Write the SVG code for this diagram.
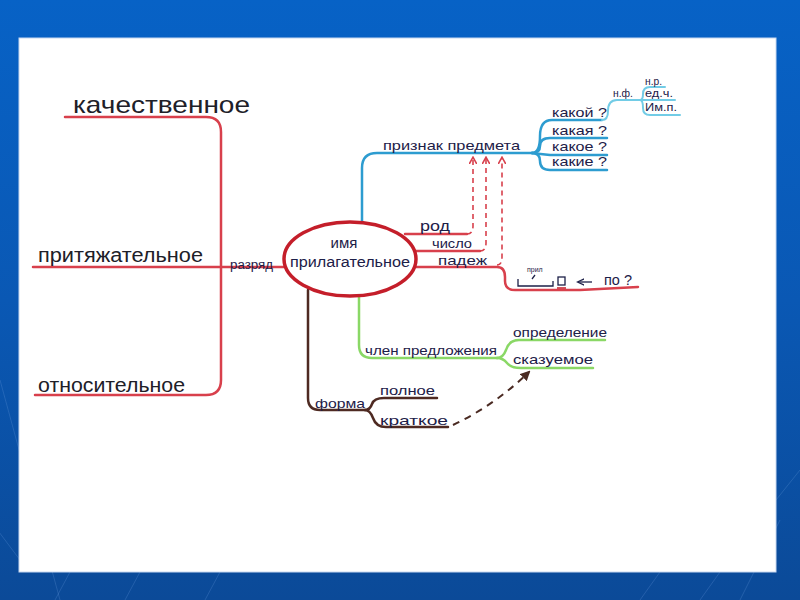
<svg xmlns="http://www.w3.org/2000/svg" width="800" height="600" viewBox="0 0 800 600">
<defs>
<linearGradient id="bg" x1="0" y1="0" x2="0" y2="1">
<stop offset="0" stop-color="#0762c6"/>
<stop offset="0.5" stop-color="#0a58b4"/>
<stop offset="1" stop-color="#0b4a98"/>
</linearGradient>
<marker id="ar" viewBox="0 0 10 10" refX="8" refY="5" markerWidth="5" markerHeight="5" orient="auto">
<path d="M0,0 L9,5 L0,10" fill="none" stroke="#d8404c" stroke-width="2"/>
</marker>
<marker id="ab" viewBox="0 0 10 10" refX="8" refY="5" markerWidth="5" markerHeight="5" orient="auto">
<path d="M0,0 L10,5 L0,10 Z" fill="#4a2a22"/>
</marker>
<marker id="an" viewBox="0 0 10 10" refX="8" refY="5" markerWidth="6" markerHeight="6" orient="auto">
<path d="M0,1 L9,5 L0,9" fill="none" stroke="#1d2048" stroke-width="1.5"/>
</marker>
<style>
.t{font-family:"Liberation Sans","DejaVu Sans",sans-serif;fill:#1d2048}
.big{fill:#202028}
.red{stroke:#d8404c;fill:none;stroke-width:2.5;stroke-linecap:round}
.blue{stroke:#2d9cd0;fill:none;stroke-width:2.5;stroke-linecap:round}
.cyan{stroke:#72cce6;fill:none;stroke-width:2;stroke-linecap:round}
.green{stroke:#8ad866;fill:none;stroke-width:2.5;stroke-linecap:round}
.brown{stroke:#4e2a22;fill:none;stroke-width:2.5;stroke-linecap:round}
.dred{stroke:#d8404c;fill:none;stroke-width:1.6;stroke-dasharray:5 4}
.dbrown{stroke:#4a2a22;fill:none;stroke-width:2;stroke-dasharray:7 6}
.ink{stroke:#1d2048;fill:none;stroke-width:1.3}
.bgl{stroke:#6fa0e0;stroke-opacity:0.25;stroke-width:1;fill:none}
</style>
</defs>
<rect width="800" height="600" fill="url(#bg)"/>
<g id="background-lines">
<path class="bgl" d="M0,380 L60,600"/>
<path class="bgl" d="M20,560 L-10,520"/>
<path class="bgl" d="M70,572 L55,600"/>
<path class="bgl" d="M140,572 L125,600"/>
<path class="bgl" d="M220,572 L205,600"/>
<path class="bgl" d="M780,520 L740,600"/>
<path class="bgl" d="M800,470 L776,500"/>
<path class="bgl" d="M720,572 L700,600"/>
<path class="bgl" d="M660,572 L640,600"/>
</g>
<rect x="19" y="38" width="757" height="534" fill="#ffffff" stroke="#c8d8f0" stroke-width="1"/>

<g id="connectors">
<path class="red" d="M65,117 H206 Q221,117 221,132 V380 Q221,395 206,395 H35"/>
<path class="red" d="M33,267 H285"/>
<path class="blue" d="M362,222 V168 Q362,153 377,153 H532"/>
<path class="blue" d="M532,153 Q540,153 540,136 Q540,120 552,120 H602"/>
<path class="blue" d="M532,153 Q540,153 540,146 Q540,138 550,138 H607"/>
<path class="blue" d="M532,153 Q540,154 550,155 H607"/>
<path class="blue" d="M532,153 Q540,153 540,161 Q540,170 550,170 H607"/>
<path class="cyan" d="M602,120 Q608,120 608,111 Q608,100 617,100 H640"/>
<path class="cyan" d="M640,100 Q643,100 643,94 Q643,87 650,87 H665"/>
<path class="cyan" d="M640,100 H675"/>
<path class="cyan" d="M640,100 Q643,100 643,108 Q643,115 650,115 H680"/>
<path class="red" d="M405,234 H467"/>
<path class="red" d="M414,251 H480"/>
<path class="red" d="M416,267 H497 Q505,267 505,277 V281 Q505,290 515,290 H580 L638,287"/>
<path class="dred" d="M467,234 Q473,234 473,226 V158" marker-end="url(#ar)"/>
<path class="dred" d="M480,251 Q486,251 486,243 V158" marker-end="url(#ar)"/>
<path class="dred" d="M497,265 Q502,265 502,257 V158" marker-end="url(#ar)"/>
<path class="green" d="M359,297 V345 Q359,358 372,358 H497"/>
<path class="green" d="M497,358 Q503,358 506,350 Q509,340 519,340 H605"/>
<path class="green" d="M497,358 Q503,358 507,363 Q511,368 521,368 H593"/>
<path class="brown" d="M308,290 V398 Q308,410 320,410 H365"/>
<path class="brown" d="M365,410 Q370,410 372,404 Q374,398 384,398 H437"/>
<path class="brown" d="M365,410 Q370,410 373,418 Q376,427 386,427 H448"/>
<path class="dbrown" d="M453,425 Q495,405 529,372" marker-end="url(#ab)"/>
</g>

<g id="center">
<ellipse cx="350" cy="259" rx="66" ry="37" fill="#ffffff" stroke="#c41e2a" stroke-width="3.5"/>
<text class="t" x="344" y="248" font-size="15" text-anchor="middle">имя</text>
<text class="t" x="290" y="267" font-size="14" textLength="120" lengthAdjust="spacingAndGlyphs">прилагательное</text>
</g>

<g id="razryad">
<text class="t" x="230" y="269" font-size="12" textLength="43" lengthAdjust="spacingAndGlyphs">разряд</text>
</g>
<g id="kachestvennoe">
<text class="t big" x="73" y="113" font-size="24" textLength="177" lengthAdjust="spacingAndGlyphs">качественное</text>
</g>
<g id="prityazhatelnoe">
<text class="t big" x="38" y="262" font-size="20" textLength="165" lengthAdjust="spacingAndGlyphs">притяжательное</text>
</g>
<g id="otnositelnoe">
<text class="t big" x="38" y="392" font-size="20" textLength="147" lengthAdjust="spacingAndGlyphs">относительное</text>
</g>

<g id="priznak">
<text class="t" x="383" y="150" font-size="13" textLength="137" lengthAdjust="spacingAndGlyphs">признак предмета</text>
</g>
<g id="kakoy"><text class="t" x="552" y="117" font-size="13" textLength="55" lengthAdjust="spacingAndGlyphs">какой ?</text></g>
<g id="kakaya"><text class="t" x="552" y="135" font-size="13" textLength="55" lengthAdjust="spacingAndGlyphs">какая ?</text></g>
<g id="kakoe"><text class="t" x="552" y="151" font-size="13" textLength="55" lengthAdjust="spacingAndGlyphs">какое ?</text></g>
<g id="kakie"><text class="t" x="552" y="166" font-size="13" textLength="55" lengthAdjust="spacingAndGlyphs">какие ?</text></g>
<g id="nf"><text class="t" x="613" y="97" font-size="10" textLength="20" lengthAdjust="spacingAndGlyphs">н.ф.</text></g>
<g id="nr"><text class="t" x="645" y="85" font-size="10" textLength="17" lengthAdjust="spacingAndGlyphs">н.р.</text></g>
<g id="edch"><text class="t" x="645" y="97" font-size="10" textLength="28" lengthAdjust="spacingAndGlyphs">ед.ч.</text></g>
<g id="imp"><text class="t" x="645" y="111" font-size="10" textLength="32" lengthAdjust="spacingAndGlyphs">Им.п.</text></g>

<g id="rod"><text class="t" x="420" y="231" font-size="14" textLength="30" lengthAdjust="spacingAndGlyphs">род</text></g>
<g id="chislo"><text class="t" x="432" y="248" font-size="13" textLength="40" lengthAdjust="spacingAndGlyphs">число</text></g>
<g id="padezh"><text class="t" x="438" y="265" font-size="13" textLength="49" lengthAdjust="spacingAndGlyphs">падеж</text></g>

<g id="po-annotation">
<text class="t" x="527" y="272" font-size="7">прил</text>
<path class="ink" d="M535,275 L532,279"/>
<path class="ink" d="M518,279 V286 H553 V281"/>
<rect x="558" y="277" width="7" height="8" fill="none" stroke="#1d2048" stroke-width="1.3"/>
<path d="M557,288 H566" stroke="#c41e2a" stroke-width="1.5"/>
<path class="ink" d="M592,282 H578" marker-end="url(#an)"/>
<text class="t" x="604" y="285" font-size="15" textLength="28" lengthAdjust="spacingAndGlyphs">по ?</text>
</g>

<g id="chlen"><text class="t" x="365" y="355" font-size="13" textLength="132" lengthAdjust="spacingAndGlyphs">член предложения</text></g>
<g id="opredelenie"><text class="t" x="513" y="337" font-size="13" textLength="94" lengthAdjust="spacingAndGlyphs">определение</text></g>
<g id="skazuemoe"><text class="t" x="513" y="364" font-size="13" textLength="80" lengthAdjust="spacingAndGlyphs">сказуемое</text></g>

<g id="forma"><text class="t" x="315" y="408" font-size="13" textLength="50" lengthAdjust="spacingAndGlyphs">форма</text></g>
<g id="polnoe"><text class="t" x="380" y="395" font-size="13" textLength="55" lengthAdjust="spacingAndGlyphs">полное</text></g>
<g id="kratkoe"><text class="t" x="380" y="425" font-size="13" textLength="68" lengthAdjust="spacingAndGlyphs">краткое</text></g>
</svg>
